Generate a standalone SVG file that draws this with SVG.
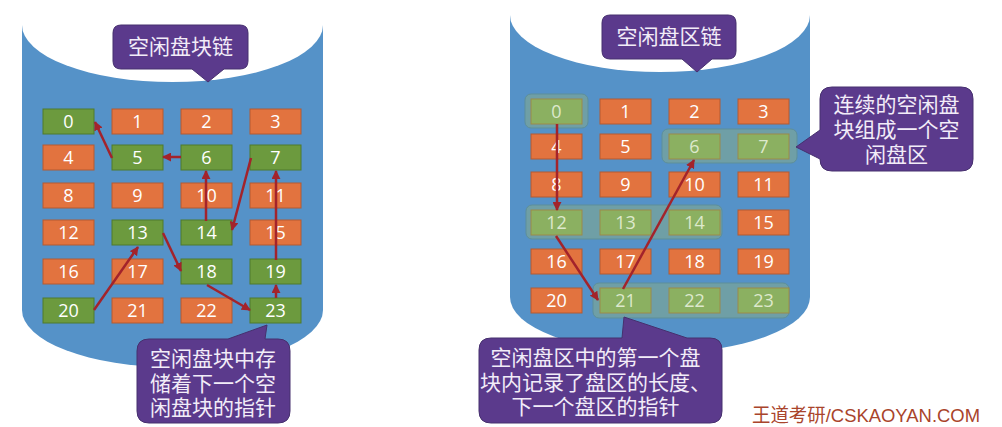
<svg xmlns="http://www.w3.org/2000/svg" width="1002" height="427" viewBox="0 0 1002 427">
<defs>
<style>
.cyl{fill:#5592C8}
.top{fill:#ffffff}
.bo{fill:#E2733F;stroke:#B35A33;stroke-width:1}
.bg{fill:#6C9A3E;stroke:#4F7A2D;stroke-width:1}
.bl{fill:#8BB061;stroke:#9C8A4A;stroke-width:1}
.grp{fill:#6F9FA6;stroke:#5E8F99;stroke-width:1}
.num{font-family:"Open Sans","Liberation Sans",sans-serif;font-size:18px;fill:#ffffff;text-anchor:middle}
.numl{font-family:"Open Sans","Liberation Sans",sans-serif;font-size:18px;fill:#DDE9CC;text-anchor:middle}
.call{fill:#5B3A8C;stroke:#46306E;stroke-width:1}
.ct{font-family:"Liberation Sans","Noto Sans CJK SC",sans-serif;font-size:21px;fill:#F2ECF8;text-anchor:middle}
.arr{stroke:#A3232B;stroke-width:2.5;fill:none;marker-end:url(#ah)}
.wm{font-family:"Liberation Sans","Noto Sans CJK SC",sans-serif;font-size:19px;fill:#A9442B}
</style>
<marker id="ah" viewBox="0 0 10 10" refX="9" refY="5" markerWidth="9" markerHeight="9" markerUnits="userSpaceOnUse" orient="auto">
<path d="M0,0 L10,5 L0,10 z" fill="#A3232B"/>
</marker>
</defs>
<rect x="0" y="0" width="1002" height="427" fill="#ffffff"/>
<rect x="75" y="-22" width="165" height="23" rx="6" class="cyl"/>

<!-- left cylinder -->
<g id="cylinder-left">
<path class="cyl" d="M22,25 L22,310 A150.5,57 0 0 0 323,310 L323,25 Z"/>
<ellipse class="top" cx="172.5" cy="25" rx="150.5" ry="57"/>
</g>
<!-- right cylinder -->
<g id="cylinder-right">
<path class="cyl" d="M510,15 L510,297 A150,56 0 0 0 810,297 L810,15 Z"/>
<ellipse class="top" cx="660" cy="15" rx="150" ry="57"/>
</g>

<!-- left grid -->
<g id="L0"><rect class="bg" x="43" y="109" width="51" height="25"/><text class="num" x="68.5" y="128">0</text></g>
<g id="L1"><rect class="bo" x="112" y="109" width="51" height="25"/><text class="num" x="137.5" y="128">1</text></g>
<g id="L2"><rect class="bo" x="181" y="109" width="51" height="25"/><text class="num" x="206.5" y="128">2</text></g>
<g id="L3"><rect class="bo" x="250" y="109" width="51" height="25"/><text class="num" x="275.5" y="128">3</text></g>
<g id="L4"><rect class="bo" x="43" y="145" width="51" height="25"/><text class="num" x="68.5" y="164">4</text></g>
<g id="L5"><rect class="bg" x="112" y="145" width="51" height="25"/><text class="num" x="137.5" y="164">5</text></g>
<g id="L6"><rect class="bg" x="181" y="145" width="51" height="25"/><text class="num" x="206.5" y="164">6</text></g>
<g id="L7"><rect class="bg" x="250" y="145" width="51" height="25"/><text class="num" x="275.5" y="164">7</text></g>
<g id="L8"><rect class="bo" x="43" y="183" width="51" height="25"/><text class="num" x="68.5" y="202">8</text></g>
<g id="L9"><rect class="bo" x="112" y="183" width="51" height="25"/><text class="num" x="137.5" y="202">9</text></g>
<g id="L10"><rect class="bo" x="181" y="183" width="51" height="25"/><text class="num" x="206.5" y="202">10</text></g>
<g id="L11"><rect class="bo" x="250" y="183" width="51" height="25"/><text class="num" x="275.5" y="202">11</text></g>
<g id="L12"><rect class="bo" x="43" y="220" width="51" height="25"/><text class="num" x="68.5" y="239">12</text></g>
<g id="L13"><rect class="bg" x="112" y="220" width="51" height="25"/><text class="num" x="137.5" y="239">13</text></g>
<g id="L14"><rect class="bg" x="181" y="220" width="51" height="25"/><text class="num" x="206.5" y="239">14</text></g>
<g id="L15"><rect class="bo" x="250" y="220" width="51" height="25"/><text class="num" x="275.5" y="239">15</text></g>
<g id="L16"><rect class="bo" x="43" y="259" width="51" height="25"/><text class="num" x="68.5" y="278">16</text></g>
<g id="L17"><rect class="bo" x="112" y="259" width="51" height="25"/><text class="num" x="137.5" y="278">17</text></g>
<g id="L18"><rect class="bg" x="181" y="259" width="51" height="25"/><text class="num" x="206.5" y="278">18</text></g>
<g id="L19"><rect class="bg" x="250" y="259" width="51" height="25"/><text class="num" x="275.5" y="278">19</text></g>
<g id="L20"><rect class="bg" x="43" y="298" width="51" height="25"/><text class="num" x="68.5" y="317">20</text></g>
<g id="L21"><rect class="bo" x="112" y="298" width="51" height="25"/><text class="num" x="137.5" y="317">21</text></g>
<g id="L22"><rect class="bo" x="181" y="298" width="51" height="25"/><text class="num" x="206.5" y="317">22</text></g>
<g id="L23"><rect class="bg" x="250" y="298" width="51" height="25"/><text class="num" x="275.5" y="317">23</text></g>

<!-- right groups -->
<g id="R-groups">
<rect class="grp" x="525" y="94" width="63" height="34" rx="6"/>
<rect class="grp" x="662" y="129" width="135" height="34" rx="6"/>
<rect class="grp" x="526" y="205" width="196" height="34" rx="6"/>
<rect class="grp" x="593" y="283" width="196" height="35" rx="6"/>
</g>

<!-- right grid -->
<g id="R0"><rect class="bl" x="531" y="99" width="51" height="25"/><text class="numl" x="556.5" y="118">0</text></g>
<g id="R1"><rect class="bo" x="600" y="99" width="51" height="25"/><text class="num" x="625.5" y="118">1</text></g>
<g id="R2"><rect class="bo" x="669" y="99" width="51" height="25"/><text class="num" x="694.5" y="118">2</text></g>
<g id="R3"><rect class="bo" x="738" y="99" width="51" height="25"/><text class="num" x="763.5" y="118">3</text></g>
<g id="R4"><rect class="bo" x="531" y="134" width="51" height="25"/><text class="num" x="556.5" y="153">4</text></g>
<g id="R5"><rect class="bo" x="600" y="134" width="51" height="25"/><text class="num" x="625.5" y="153">5</text></g>
<g id="R6"><rect class="bl" x="669" y="134" width="51" height="25"/><text class="numl" x="694.5" y="153">6</text></g>
<g id="R7"><rect class="bl" x="738" y="134" width="51" height="25"/><text class="numl" x="763.5" y="153">7</text></g>
<g id="R8"><rect class="bo" x="531" y="172" width="51" height="25"/><text class="num" x="556.5" y="191">8</text></g>
<g id="R9"><rect class="bo" x="600" y="172" width="51" height="25"/><text class="num" x="625.5" y="191">9</text></g>
<g id="R10"><rect class="bo" x="669" y="172" width="51" height="25"/><text class="num" x="694.5" y="191">10</text></g>
<g id="R11"><rect class="bo" x="738" y="172" width="51" height="25"/><text class="num" x="763.5" y="191">11</text></g>
<g id="R12"><rect class="bl" x="531" y="210" width="51" height="25"/><text class="numl" x="556.5" y="229">12</text></g>
<g id="R13"><rect class="bl" x="600" y="210" width="51" height="25"/><text class="numl" x="625.5" y="229">13</text></g>
<g id="R14"><rect class="bl" x="669" y="210" width="51" height="25"/><text class="numl" x="694.5" y="229">14</text></g>
<g id="R15"><rect class="bo" x="738" y="210" width="51" height="25"/><text class="num" x="763.5" y="229">15</text></g>
<g id="R16"><rect class="bo" x="531" y="249" width="51" height="25"/><text class="num" x="556.5" y="268">16</text></g>
<g id="R17"><rect class="bo" x="600" y="249" width="51" height="25"/><text class="num" x="625.5" y="268">17</text></g>
<g id="R18"><rect class="bo" x="669" y="249" width="51" height="25"/><text class="num" x="694.5" y="268">18</text></g>
<g id="R19"><rect class="bo" x="738" y="249" width="51" height="25"/><text class="num" x="763.5" y="268">19</text></g>
<g id="R20"><rect class="bo" x="531" y="288" width="51" height="25"/><text class="num" x="556.5" y="307">20</text></g>
<g id="R21"><rect class="bl" x="600" y="288" width="51" height="25"/><text class="numl" x="625.5" y="307">21</text></g>
<g id="R22"><rect class="bl" x="669" y="288" width="51" height="25"/><text class="numl" x="694.5" y="307">22</text></g>
<g id="R23"><rect class="bl" x="738" y="288" width="51" height="25"/><text class="numl" x="763.5" y="307">23</text></g>

<!-- connectors -->
<g id="connectors">
<line class="arr" x1="112" y1="158" x2="95" y2="122"/>
<line class="arr" x1="181" y1="157" x2="163" y2="157"/>
<line class="arr" x1="206" y1="221" x2="206" y2="171"/>
<line class="arr" x1="251" y1="158" x2="232" y2="230"/>
<line class="arr" x1="276" y1="260" x2="276" y2="171"/>
<line class="arr" x1="276" y1="298" x2="276" y2="285"/>
<line class="arr" x1="207" y1="285" x2="250" y2="310"/>
<line class="arr" x1="163" y1="233" x2="181" y2="271"/>
<line class="arr" x1="94" y1="310" x2="138" y2="247"/>
<line class="arr" x1="557" y1="124" x2="557" y2="210"/>
<line class="arr" x1="556" y1="236" x2="598" y2="300"/>
<line class="arr" x1="623" y1="289" x2="694" y2="160"/>
</g>

<!-- callouts -->
<g id="callout-left-top">
<path class="call" d="M121,25 H240 Q248,25 248,33 V61 Q248,69 240,69 H224 L208,82 L192,69 H121 Q113,69 113,61 V33 Q113,25 121,25 Z"/>
<text class="ct" x="180.5" y="54">空闲盘块链</text>
</g>
<g id="callout-right-top">
<path class="call" d="M610,15 H728 Q736,15 736,23 V51 Q736,59 728,59 H712 L697,72 L682,59 H610 Q602,59 602,51 V23 Q602,15 610,15 Z"/>
<text class="ct" x="669" y="44">空闲盘区链</text>
</g>
<g id="callout-right-side">
<path class="call" d="M832,87 H961 Q973,87 973,99 V159 Q973,171 961,171 H832 Q820,171 820,159 L796,147 L820,130 V99 Q820,87 832,87 Z"/>
<text class="ct" x="896.5" y="112">连续的空闲盘</text>
<text class="ct" x="896.5" y="137">块组成一个空</text>
<text class="ct" x="896.5" y="162">闲盘区</text>
</g>
<g id="callout-left-bottom">
<path class="call" d="M149,339 H228 L267,325 L265,339 H278 Q290,339 290,351 V411 Q290,423 278,423 H149 Q137,423 137,411 V351 Q137,339 149,339 Z"/>
<text class="ct" x="213" y="366">空闲盘块中存</text>
<text class="ct" x="213" y="391">储着下一个空</text>
<text class="ct" x="213" y="415">闲盘块的指针</text>
</g>
<g id="callout-right-bottom">
<path class="call" d="M491,338 H622 L624,317 L687,338 H710 Q722,338 722,350 V411 Q722,423 710,423 H491 Q479,423 479,411 V350 Q479,338 491,338 Z"/>
<text class="ct" x="595.5" y="365">空闲盘区中的第一个盘</text>
<text class="ct" x="595.5" y="390">块内记录了盘区的长度、</text>
<text class="ct" x="595.5" y="414">下一个盘区的指针</text>
</g>

<text class="wm" x="752" y="422" textLength="228" lengthAdjust="spacingAndGlyphs">王道考研/CSKAOYAN.COM</text>
</svg>
